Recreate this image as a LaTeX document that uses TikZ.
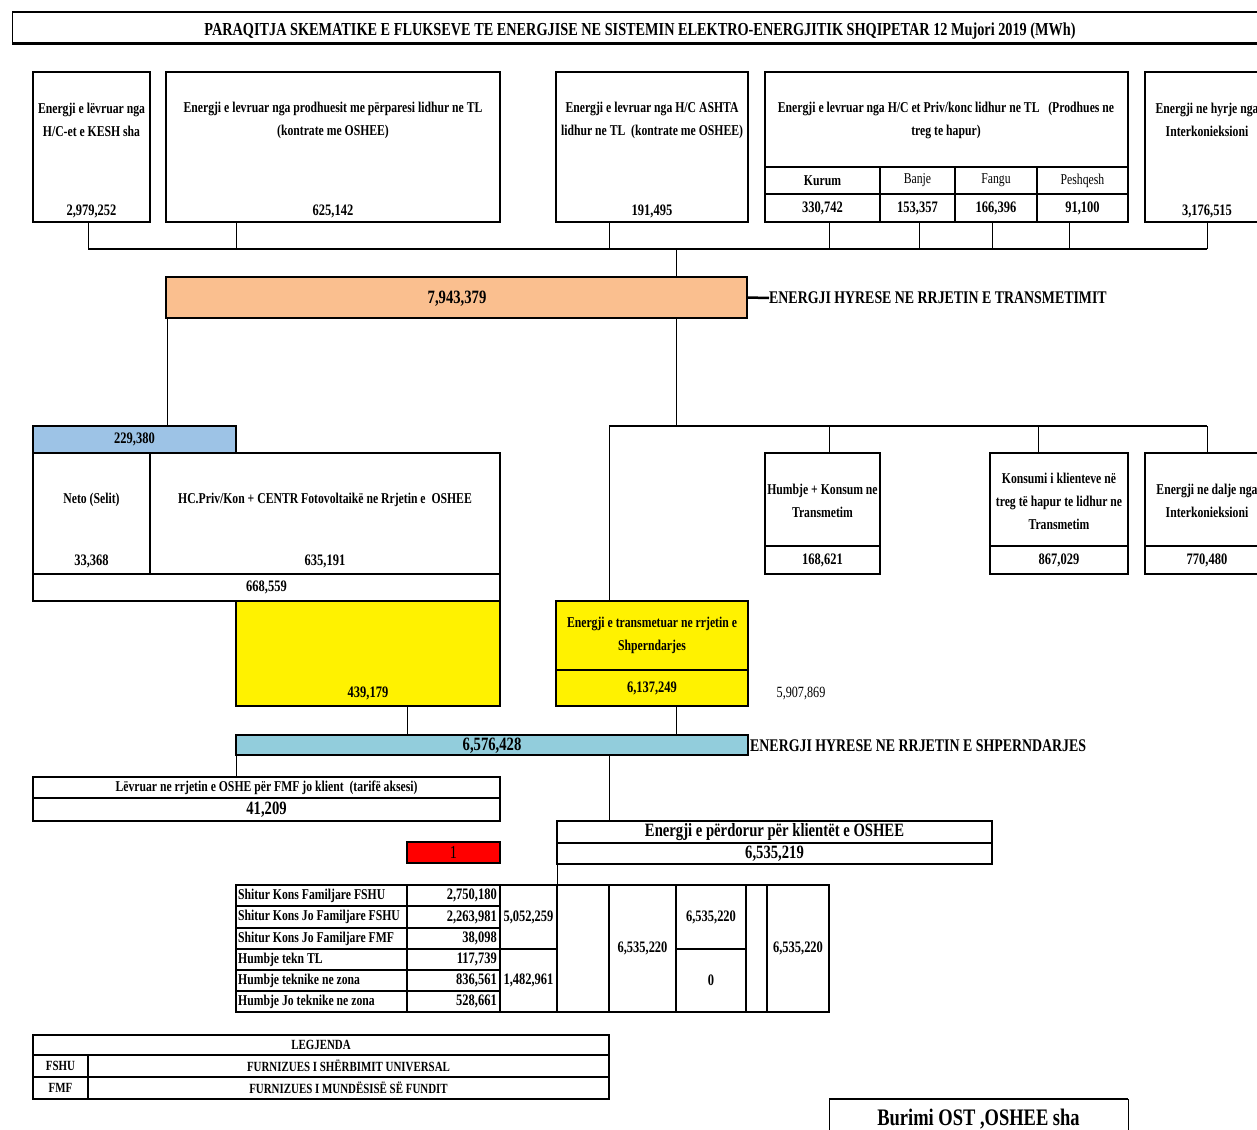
\documentclass[tikz,border=0pt]{standalone}
\usepackage{fontspec}
\setmainfont{Liberation Serif}[FakeStretch=0.78]
\usepackage{tikz}

\definecolor{transorange}{HTML}{FABF8F}
\definecolor{selblue}{HTML}{9DC3E6}
\definecolor{distteal}{HTML}{92CDDC}

\begin{document}
\begin{tikzpicture}[x=1pt,y=-1pt]
		\tikzstyle{box}=[draw,line width=2.5pt,anchor=north west,inner sep=0pt,outer sep=0pt]
		\tikzstyle{cell}=[draw,line width=1.5pt,anchor=north west,inner sep=0pt,outer sep=0pt]
		\tikzstyle{txt}=[font=\fontsize{15}{23}\selectfont\bfseries,align=center,inner sep=0pt]
		\tikzstyle{num}=[font=\fontsize{16}{17}\selectfont\bfseries,inner sep=0pt]
		\tikzstyle{big}=[font=\fontsize{18.8}{20}\selectfont\bfseries]
		\tikzstyle{head}=[font=\fontsize{17.8}{19}\selectfont\bfseries]
		\tikzstyle{legend}=[font=\fontsize{14}{15}\selectfont\bfseries]
		\tikzstyle{lnk}=[line width=0.8pt]
		\tikzstyle{bus}=[line width=2pt]

		\useasboundingbox (0,0) rectangle (1257,1129);
		\clip (0,0) rectangle (1257,1129);

		\node[box,line width=1pt,minimum width=1260,minimum height=32] (title) at (12,12) {};
		\node[font=\fontsize{18.3}{19}\selectfont\bfseries,inner sep=0pt] (titleT) at (640,31) {PARAQITJA SKEMATIKE E FLUKSEVE TE ENERGJISE NE SISTEMIN ELEKTRO-ENERGJITIK SHQIPETAR 12 Mujori 2019 (MWh)};
		\draw[line width=2pt] (title.north west) -- (title.north east);
		\draw[line width=3pt] (title.south west) -- (title.south east);

		\node[box,minimum width=117,minimum height=150] (kesh) at (33,72) {};
		\node[txt] (keshT) at (91.5,120) {Energji e lëvruar nga\\H/C-et e KESH sha};
		\node[num] (keshV) at (91.5,211) {2,979,252};
		\node[box,minimum width=334,minimum height=150] (prod) at (166,72) {};
		\node[txt] (prodT) at (333,120) {Energji e levruar nga prodhuesit me përparesi lidhur ne TL\\(kontrate me OSHEE)};
		\node[num] (prodV) at (333,211) {625,142};
		\node[box,minimum width=192,minimum height=150] (ashta) at (556,72) {};
		\node[txt] (ashtaT) at (652,120) {Energji e levruar nga H/C ASHTA\\lidhur ne TL\ \ (kontrate me OSHEE)};
		\node[num] (ashtaV) at (652,211) {191,495};
		\node[box,minimum width=363,minimum height=95] (priv) at (765,72) {};
		\node[txt] (privT) at (946,120) {Energji e levruar nga H/C et Priv/konc lidhur ne TL\ \ \ (Prodhues ne\\treg te hapur)};
		\node[cell,minimum width=115,minimum height=27,txt] (kurumN) at (765,167) {Kurum};
		\node[cell,minimum width=75,minimum height=27,txt] (banjeN) at (880,167) {\mdseries Banje};
		\node[cell,minimum width=82,minimum height=27,txt] (fanguN) at (955,167) {\mdseries Fangu};
		\node[cell,minimum width=91,minimum height=27,txt] (peshN) at (1037,167) {\mdseries Peshqesh};
		\node[cell,minimum width=115,minimum height=28,num] (kurumV) at (765,194) {330,742};
		\node[cell,minimum width=75,minimum height=28,num] (banjeV) at (880,194) {153,357};
		\node[cell,minimum width=82,minimum height=28,num] (fanguV) at (955,194) {166,396};
		\node[cell,minimum width=91,minimum height=28,num] (peshV) at (1037,194) {91,100};
		\draw[line width=2.5pt] (kurumN.north west) -- (peshN.north east);
		\draw[line width=2.5pt] (kurumV.south west) rectangle (peshN.north east);
		\node[box,minimum width=124,minimum height=150] (inter) at (1145,72) {};
		\node[txt] (interT) at (1207,120) {Energji ne hyrje nga\\Interkonieksioni};
		\node[num] (interV) at (1207,211) {3,176,515};

		\coordinate (busW) at (88,249);
		\coordinate (busE) at (1207,249);
		\coordinate (keshTap) at ([xshift=55pt]kesh.south west);
		\coordinate (prodTap) at ([xshift=70pt]prod.south west);
		\coordinate (ashtaTap) at ([xshift=53pt]ashta.south west);
		\coordinate (kurumTap) at ([xshift=64pt]kurumV.south west);
		\coordinate (banjeTap) at ([xshift=39pt]banjeV.south west);
		\coordinate (fanguTap) at ([xshift=37pt]fanguV.south west);
		\coordinate (peshTap) at ([xshift=32pt]peshV.south west);
		\foreach \t in {keshTap,prodTap,ashtaTap,kurumTap,banjeTap,fanguTap,peshTap}
			\draw[lnk] (\t) -- (\t |- busW);
		\draw[lnk] (inter.south) -- (inter.south |- busW);
		\draw[bus] (busW) -- (busE);

		\node[box,fill=transorange,minimum width=581,minimum height=41] (trans) at (166,277) {};
		\node[big,inner sep=0pt] (transV) at (457,299) {7,943,379};
		\node[head,anchor=west,inner sep=0pt] (transL) at (769,298) {ENERGJI HYRESE NE RRJETIN E TRANSMETIMIT};
		\draw[line width=2.5pt] (trans.east) -- (transL.west);
		\coordinate (transTap) at ([xshift=510pt]trans.north west);
		\draw[lnk] (transTap |- busW) -- (transTap);

		\node[box,fill=selblue,minimum width=203,minimum height=27,num] (sel) at (33,426) {229,380};
		\node[box,minimum width=117,minimum height=121] (neto) at (33,453) {};
		\node[txt] (netoT) at (91.5,500) {Neto (Selit)};
		\node[num] (netoV) at (91.5,561) {33,368};
		\node[box,minimum width=350,minimum height=121] (hc) at (150,453) {};
		\node[txt] (hcT) at (325,500) {HC.Priv/Kon + CENTR Fotovoltaikë ne Rrjetin e\ \ OSHEE};
		\node[num] (hcV) at (325,561) {635,191};
		\node[box,minimum width=467,minimum height=27,num] (selTot) at (33,574) {668,559};
		\coordinate (selTap) at ([xshift=1pt]trans.south west);
		\draw[lnk] (selTap) -- (selTap |- sel.north);

		\coordinate (bus2W) at (609,426);
		\coordinate (bus2E) at (1207,426);
		\coordinate (trans2Tap) at ([xshift=510pt]trans.south west);
		\draw[lnk] (trans2Tap) -- (trans2Tap |- bus2W);
		\draw[bus] (bus2W) -- (bus2E);

		\node[box,minimum width=115,minimum height=93] (humbje) at (765,453) {};
		\node[txt] (humbjeT) at (822.5,501) {Humbje + Konsum ne\\Transmetim};
		\node[box,minimum width=115,minimum height=28,num] (humbjeV) at (765,546) {168,621};
		\node[box,minimum width=138,minimum height=93] (konsum) at (990,453) {};
		\node[txt] (konsumT) at (1059,501) {Konsumi i klienteve në\\treg të hapur te lidhur ne\\Transmetim};
		\node[box,minimum width=138,minimum height=28,num] (konsumV) at (990,546) {867,029};
		\node[box,minimum width=124,minimum height=93] (dalje) at (1145,453) {};
		\node[txt] (daljeT) at (1207,501) {Energji ne dalje nga\\Interkonieksioni};
		\node[box,minimum width=124,minimum height=28,num] (daljeV) at (1145,546) {770,480};
		\coordinate (humbjeTap) at ([xshift=64pt]humbje.north west);
		\coordinate (konsumTap) at ([xshift=48pt]konsum.north west);
		\draw[lnk] (humbjeTap |- bus2W) -- (humbjeTap);
		\draw[lnk] (konsumTap |- bus2W) -- (konsumTap);
		\draw[lnk] (dalje.north |- bus2W) -- (dalje.north);

		\node[box,fill=yellow,minimum width=264,minimum height=105] (yel1) at (236,601) {};
		\node[num] (yel1V) at (368,693) {439,179};
		\node[box,fill=yellow,minimum width=192,minimum height=69,txt] (yel2) at (556,601) {Energji e transmetuar ne rrjetin e\\Shperndarjes};
		\node[box,fill=yellow,minimum width=192,minimum height=36,num] (yel2V) at (556,670) {6,137,249};
		\node[font=\fontsize{15.6}{16}\selectfont,inner sep=0pt] (rest) at (801,694) {5,907,869};
		\draw[lnk] (bus2W) -- (bus2W |- yel2.north);

		\node[box,fill=distteal,minimum width=512,minimum height=20] (dist) at (236,735) {};
		\node[big,inner sep=0pt] (distV) at (492,746) {6,576,428};
		\node[head,anchor=west,inner sep=0pt] (distL) at (750,746) {ENERGJI HYRESE NE RRJETIN E SHPERNDARJES};
		\coordinate (yel1Tap) at ([xshift=171pt]yel1.south west);
		\coordinate (yel2Tap) at ([xshift=120pt]yel2V.south west);
		\draw[lnk] (yel1Tap) -- (yel1Tap |- dist.north);
		\draw[lnk] (yel2Tap) -- (yel2Tap |- dist.north);

		\node[box,minimum width=467,minimum height=21,txt] (lev) at (33,777) {Lëvruar ne rrjetin e OSHE për FMF jo klient\ \ (tarifë aksesi)};
		\node[box,minimum width=467,minimum height=23,big] (levV) at (33,798) {41,209};
		\draw[lnk] (dist.south west) -- (dist.south west |- lev.north);
		\coordinate (distTap) at ([xshift=373pt]dist.south west);

		\node[box,fill=red,minimum width=93,minimum height=21,font=\fontsize{18.3}{19}\selectfont] (check) at (407,842) {1};

		\node[box,minimum width=435,minimum height=22,big] (perd) at (557,821) {Energji e përdorur për klientët e OSHEE};
		\node[box,minimum width=435,minimum height=21,big] (perdV) at (557,843) {6,535,219};
		\draw[lnk] (distTap) -- (distTap |- perd.north);

		\foreach \y/\h/\lab/\val [count=\i] in {885/21/{Shitur Kons Familjare FSHU}/{2,750,180},906/22/{Shitur Kons Jo Familjare FSHU}/{2,263,981},928/21/{Shitur Kons Jo Familjare FMF}/{38,098},949/21/{Humbje tekn TL}/{117,739},970/21/{Humbje teknike ne zona}/{836,561},991/21/{Humbje Jo teknike ne zona}/{528,661}}{
			\node[cell,minimum width=171,minimum height=\h] (lab\i) at (236,\y) {};
			\node[txt,anchor=west] (labT\i) at ([xshift=2pt]lab\i.west) {\lab};
			\node[cell,minimum width=93,minimum height=\h] (val\i) at (407,\y) {};
			\node[num,anchor=east] (valT\i) at ([xshift=-3pt]val\i.east) {\val};
		}
		\node[cell,minimum width=57,minimum height=64,num] (grp1) at (500,885) {5,052,259};
		\node[cell,minimum width=57,minimum height=63,num] (grp2) at (500,949) {1,482,961};

		\node[cell,minimum width=52,minimum height=127] (sum1) at (557,885) {};
		\node[cell,minimum width=67,minimum height=127,num] (sum2) at (609,885) {6,535,220};
		\node[cell,minimum width=70,minimum height=64,num] (sum3) at (676,885) {6,535,220};
		\node[cell,minimum width=70,minimum height=63,num] (sum4) at (676,949) {0};
		\node[cell,minimum width=21,minimum height=127] (sum5) at (746,885) {};
		\node[cell,minimum width=62,minimum height=127,num] (sum6) at (767,885) {6,535,220};
		\draw[lnk] (perdV.south west) -- (perdV.south west |- sum1.north);

		\node[cell,minimum width=576,minimum height=20,legend] (leg) at (33,1035) {LEGJENDA};
		\node[cell,minimum width=55,minimum height=22,legend] (fshuA) at (33,1055) {FSHU};
		\node[cell,minimum width=521,minimum height=22,legend] (fshuB) at (88,1055) {FURNIZUES I SHËRBIMIT UNIVERSAL};
		\node[cell,minimum width=55,minimum height=22,legend] (fmfA) at (33,1077) {FMF};
		\node[cell,minimum width=521,minimum height=22,legend] (fmfB) at (88,1077) {FURNIZUES I MUNDËSISË SË FUNDIT};
		\draw[line width=2.5pt] (leg.north west) -- (leg.north east);

		\node[box,line width=1pt,minimum width=299,minimum height=40,font=\fontsize{23.7}{25}\selectfont\bfseries] (burimi) at (829,1099) {Burimi OST ,OSHEE sha};
		\draw[line width=2.5pt] (burimi.north west) -- (burimi.north east);
	\end{tikzpicture}
\end{document}
